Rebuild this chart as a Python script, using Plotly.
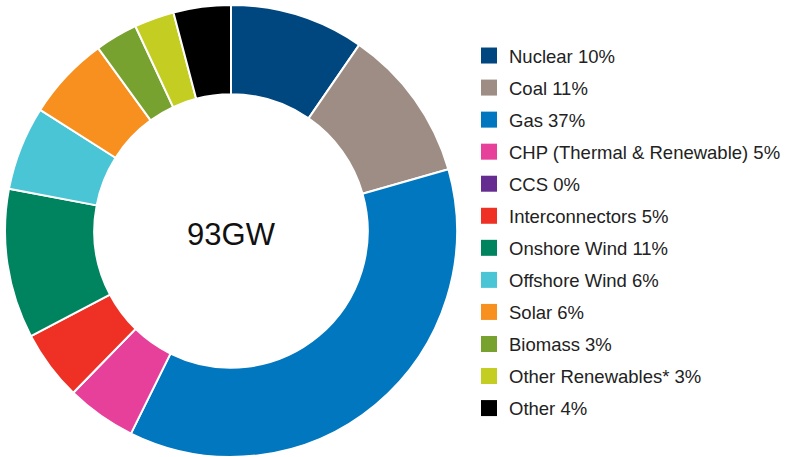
import plotly.graph_objects as go

# Data (shares of 93 GW capacity, %)
categories = ["Nuclear", "Coal", "Gas", "CHP (Thermal & Renewable)", "CCS",
              "Interconnectors", "Onshore Wind", "Offshore Wind", "Solar",
              "Biomass", "Other Renewables*", "Other"]
shares = [9.6, 11.0, 36.7, 5.0, 0.0, 5.0, 10.7, 6.0, 6.0, 3.05, 2.85, 4.1]
label_pct = [10, 11, 37, 5, 0, 5, 11, 6, 6, 3, 3, 4]
total_label = "93GW"
colors = ["#00467f", "#9e8d85", "#0077bf", "#e7409a", "#662d91", "#ee3124",
          "#00845f", "#4ac5d5", "#f7901e", "#77a22f", "#c4cd21", "#000000"]

legend_labels = [f"{c} {p}%" for c, p in zip(categories, label_pct)]

fig = go.Figure()
fig.add_trace(go.Pie(
    labels=categories, values=shares, hole=0.605, sort=False,
    direction="clockwise", rotation=0, textinfo="none",
    marker=dict(colors=colors, line=dict(color="white", width=2)),
    showlegend=False,
    domain=dict(x=[5/806, 457/806], y=[0/457, 452/457]),
    title=dict(text=total_label, position="middle center",
               font=dict(size=31, color="#111", family="Liberation Sans, Arial, sans-serif")),
))

for i, (lab, col) in enumerate(zip(legend_labels, colors)):
    fig.add_trace(go.Scatter(
        x=[None], y=[None], mode="markers", name=lab,
        marker=dict(symbol="square", size=16, color=col),
        legendgroup=f"g{i}", showlegend=True,
    ))

fig.update_layout(
    width=806, height=457,
    margin=dict(l=0, r=0, t=0, b=0),
    paper_bgcolor="white", plot_bgcolor="white",
    xaxis=dict(visible=False), yaxis=dict(visible=False),
    legend=dict(x=469/806, y=1 - 37/457, xanchor="left", yanchor="top",
                traceorder="grouped", tracegroupgap=5,
                font=dict(size=18.5, color="#222", family="Liberation Sans, Arial, sans-serif"),
                bgcolor="rgba(0,0,0,0)"),
    font=dict(family="Liberation Sans, Arial, sans-serif"),
)

fig.write_html("out.html", config={"displayModeBar": False},
               post_script="document.body.style.margin='0';document.body.style.overflow='hidden';")
